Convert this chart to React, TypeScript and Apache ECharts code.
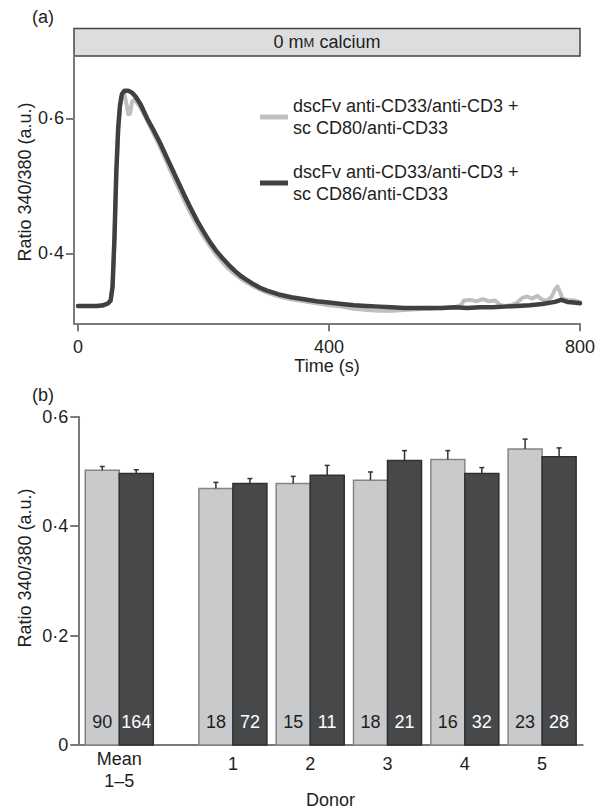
import React, { useEffect, useRef } from "react";
import * as echarts from "echarts";

const FONT = '"Liberation Sans", Arial, Helvetica, sans-serif';
const TEXT = "#1e1e1e";
const AXIS = "#7a7a7a";
const LIGHT = "#bebfc1";
const DARK = "#3f4042";

// ---- Panel (a): Fura-2 ratio traces over time ----
const seriesNames = [
  "dscFv anti-CD33/anti-CD3 + sc CD80/anti-CD33",
  "dscFv anti-CD33/anti-CD3 + sc CD86/anti-CD33",
];

const timesCD80 = [
  0, 10, 20, 30, 40, 48, 52, 55, 58, 61, 64, 67, 70, 74, 77, 80, 83, 86, 90,
  100, 110, 120, 130, 140, 150, 160, 170, 180, 190, 200, 210, 220, 230, 240,
  250, 260, 270, 280, 290, 300, 320, 340, 360, 380, 400, 420, 440, 460, 480,
  500, 520, 540, 560, 580, 600, 610, 615, 625, 635, 645, 655, 665, 672, 680,
  690, 700, 708, 716, 724, 732, 740, 748, 755, 760, 764, 768, 772, 780, 790, 800,
];
const ratioCD80 = [
  0.322, 0.322, 0.322, 0.322, 0.322, 0.325, 0.33, 0.35, 0.418, 0.515, 0.58,
  0.618, 0.633, 0.636, 0.622, 0.606, 0.607, 0.624, 0.628, 0.615, 0.597, 0.578,
  0.559, 0.538, 0.517, 0.497, 0.477, 0.458, 0.441, 0.425, 0.411, 0.398, 0.387,
  0.377, 0.369, 0.362, 0.356, 0.351, 0.346, 0.342, 0.336, 0.332, 0.329, 0.326,
  0.323, 0.321, 0.318, 0.316, 0.315, 0.315, 0.316, 0.317, 0.318, 0.319, 0.32,
  0.323, 0.33, 0.331, 0.329, 0.332, 0.329, 0.33, 0.324, 0.322, 0.323, 0.327,
  0.334, 0.336, 0.333, 0.337, 0.331, 0.33, 0.336, 0.346, 0.351, 0.343, 0.333,
  0.331, 0.33, 0.328,
];

const timesCD86 = [
  0, 10, 20, 30, 40, 48, 52, 55, 58, 61, 64, 67, 70, 74, 80, 86, 92, 100, 110,
  120, 130, 140, 150, 160, 170, 180, 190, 200, 210, 220, 230, 240, 250, 260,
  270, 280, 290, 300, 320, 340, 360, 380, 400, 420, 440, 460, 480, 500, 520,
  540, 560, 580, 600, 620, 640, 660, 680, 700, 720, 740, 760, 770, 780, 790, 800,
];
const ratioCD86 = [
  0.322, 0.322, 0.322, 0.322, 0.323, 0.326, 0.33, 0.35, 0.42, 0.52, 0.585,
  0.62, 0.636, 0.641, 0.641, 0.638, 0.632, 0.62, 0.6, 0.583, 0.565, 0.545,
  0.525, 0.505, 0.485, 0.466, 0.448, 0.432, 0.417, 0.404, 0.393, 0.383, 0.374,
  0.366, 0.36, 0.354, 0.349, 0.345, 0.339, 0.335, 0.332, 0.329, 0.327, 0.325,
  0.323, 0.322, 0.321, 0.32, 0.319, 0.319, 0.319, 0.319, 0.32, 0.319, 0.32,
  0.32, 0.321, 0.322, 0.323, 0.325, 0.328, 0.331, 0.328, 0.327, 0.326,
];

const timeTicks = [0, 400, 800];
const ratioTicksA = [0.4, 0.6];

// ---- Panel (b): peak ratio per donor ----
const groupLabels = ["Mean\n1–5", "1", "2", "3", "4", "5"];
const groupPositions = [0.53, 2, 3, 4, 5, 6];
const meanCD80 = [0.502, 0.469, 0.478, 0.484, 0.522, 0.541];
const errCD80 = [0.007, 0.011, 0.013, 0.015, 0.016, 0.018];
const meanCD86 = [0.496, 0.478, 0.493, 0.52, 0.496, 0.527];
const errCD86 = [0.007, 0.009, 0.018, 0.018, 0.011, 0.016];
const cellsCD80 = [90, 18, 15, 18, 16, 23];
const cellsCD86 = [164, 72, 11, 21, 32, 28];

const BAR_WIDTH = 0.44; // in x-axis units

const ratioFmt = (v: number) => (v === 0 ? "0" : v.toFixed(1).replace(".", "·"));

const makeBars = (
  name: string,
  means: number[],
  errs: number[],
  counts: number[],
  side: number,
  fill: string,
  stroke: string,
  labelColor: string
) => ({
  type: "custom",
  name,
  xAxisIndex: 1,
  yAxisIndex: 1,
  data: groupPositions.map((p, i) => [p, means[i], errs[i], counts[i]]),
  encode: { x: 0, y: 1 },
  renderItem: (_params: any, api: any) => {
    const pos = api.value(0);
    const mean = api.value(1);
    const err = api.value(2);
    const n = api.value(3);
    const base = api.coord([pos, 0]);
    const top = api.coord([pos, mean]);
    const errTop = api.coord([pos, mean + err]);
    const w = api.size([BAR_WIDTH, 0])[0];
    const x0 = side < 0 ? base[0] - w : base[0];
    const cx = x0 + w / 2;
    return {
      type: "group",
      children: [
        {
          type: "rect",
          shape: { x: x0, y: top[1], width: w, height: base[1] - top[1] },
          style: { fill, stroke, lineWidth: 1.5 },
        },
        {
          type: "line",
          shape: { x1: cx, y1: top[1], x2: cx, y2: errTop[1] },
          style: { stroke: "#333", lineWidth: 1.5 },
        },
        {
          type: "line",
          shape: { x1: cx - 2.5, y1: errTop[1], x2: cx + 2.5, y2: errTop[1] },
          style: { stroke: "#333", lineWidth: 1.5 },
        },
        {
          type: "text",
          x: cx,
          y: base[1] - 23,
          style: {
            text: String(n),
            fill: labelColor,
            fontSize: 18,
            fontFamily: FONT,
            align: "center",
            verticalAlign: "middle",
          },
        },
      ],
    };
  },
});

const axisLine = { show: true, onZero: false, lineStyle: { color: AXIS, width: 2 } };
const labelStyle = { fontSize: 18, fontFamily: FONT, color: TEXT };

export default function App() {
  const ref = useRef<HTMLDivElement>(null);

  useEffect(() => {
    if (!ref.current) return;
    const chart = echarts.init(ref.current, null, { renderer: "svg" });

    const option: any = {
      animation: false,
      backgroundColor: "#ffffff",
      textStyle: { fontFamily: FONT },
      grid: [
        { left: 74, right: 20, top: 56, bottom: 486.7 },
        { left: 78.3, right: 17.3, top: 416.7, bottom: 61.7 },
      ],
      legend: {
        data: seriesNames,
        orient: "vertical",
        left: 255,
        top: 90,
        itemWidth: 28,
        itemHeight: 5,
        itemGap: 22,
        icon: "rect",
        selectedMode: false,
        formatter: (name: string) => name.replace(" + ", " +\n"),
        textStyle: { fontSize: 18, lineHeight: 22, fontFamily: FONT, color: TEXT },
      },
      xAxis: [
        {
          type: "value",
          gridIndex: 0,
          min: -6.4,
          max: 800,
          axisLine,
          splitLine: { show: false },
          axisTick: {
            customValues: timeTicks,
            length: 8,
            lineStyle: { color: AXIS, width: 2 },
          },
          axisLabel: { ...labelStyle, customValues: timeTicks, margin: 15 },
          name: "Time (s)",
          nameLocation: "middle",
          nameGap: 34,
          nameTextStyle: labelStyle,
        },
        {
          type: "value",
          gridIndex: 1,
          min: 0,
          max: 6.525,
          axisLine,
          splitLine: { show: false },
          axisTick: { show: false },
          axisLabel: {
            ...labelStyle,
            customValues: groupPositions,
            margin: 3,
            formatter: (v: number) => {
              const i = groupPositions.findIndex((p) => Math.abs(p - v) < 1e-6);
              const s = i >= 0 ? groupLabels[i] : "";
              return i === 0
                ? s.split("\n").map((l) => `{m|${l}}`).join("\n")
                : `{n|${s}}`;
            },
            rich: {
              m: { fontSize: 18, lineHeight: 22, fontFamily: FONT, color: TEXT },
              n: { fontSize: 18, lineHeight: 32, fontFamily: FONT, color: TEXT },
            },
          },
          name: "Donor",
          nameLocation: "middle",
          nameGap: 44,
          nameTextStyle: labelStyle,
        },
      ],
      yAxis: [
        {
          type: "value",
          gridIndex: 0,
          min: 0.2963,
          max: 0.6923,
          axisLine,
          splitLine: { show: false },
          axisTick: {
            customValues: ratioTicksA,
            length: 8,
            lineStyle: { color: AXIS, width: 2 },
          },
          axisLabel: {
            ...labelStyle,
            customValues: ratioTicksA,
            margin: 10,
            formatter: ratioFmt,
          },
        },
        {
          type: "value",
          gridIndex: 1,
          min: 0,
          max: 0.6,
          interval: 0.2,
          axisLine,
          splitLine: { show: false },
          axisTick: { length: 8, lineStyle: { color: AXIS, width: 2 } },
          axisLabel: { ...labelStyle, margin: 10, formatter: ratioFmt },
        },
      ],
      graphic: [
        {
          type: "text",
          x: 43,
          y: 17,
          style: { text: "(a)", ...labelStyle, fill: TEXT, align: "center", verticalAlign: "middle" },
        },
        {
          type: "text",
          x: 43,
          y: 395,
          style: { text: "(b)", ...labelStyle, fill: TEXT, align: "center", verticalAlign: "middle" },
        },
        {
          type: "rect",
          shape: { x: 74, y: 28.5, width: 506, height: 27.5 },
          style: { fill: "#dcdddf", stroke: "#474747", lineWidth: 1.5 },
        },
        {
          type: "text",
          x: 327,
          y: 42,
          style: {
            text: "0 m{sc|M} calcium",
            rich: { sc: { fontSize: 13, fontFamily: FONT, fill: TEXT } },
            fontSize: 18,
            fontFamily: FONT,
            fill: TEXT,
            align: "center",
            verticalAlign: "middle",
          },
        },
        {
          type: "text",
          x: 25,
          y: 182,
          rotation: Math.PI / 2,
          style: {
            text: "Ratio 340/380 (a.u.)",
            fontSize: 18,
            fontFamily: FONT,
            fill: TEXT,
            align: "center",
            verticalAlign: "middle",
          },
        },
        {
          type: "text",
          x: 25,
          y: 568,
          rotation: Math.PI / 2,
          style: {
            text: "Ratio 340/380 (a.u.)",
            fontSize: 18,
            fontFamily: FONT,
            fill: TEXT,
            align: "center",
            verticalAlign: "middle",
          },
        },
      ],
      series: [
        {
          type: "line",
          name: seriesNames[0],
          xAxisIndex: 0,
          yAxisIndex: 0,
          showSymbol: false,
          color: LIGHT,
          lineStyle: { color: LIGHT, width: 4, cap: "round", join: "round" },
          data: timesCD80.map((t, i) => [t, ratioCD80[i]]),
        },
        {
          type: "line",
          name: seriesNames[1],
          xAxisIndex: 0,
          yAxisIndex: 0,
          showSymbol: false,
          color: DARK,
          lineStyle: { color: DARK, width: 4.5, cap: "round", join: "round" },
          data: timesCD86.map((t, i) => [t, ratioCD86[i]]),
        },
        makeBars("CD80 peak", meanCD80, errCD80, cellsCD80, -1, "#c9cacc", "#858585", TEXT),
        makeBars("CD86 peak", meanCD86, errCD86, cellsCD86, 1, "#47484a", "#303030", "#ffffff"),
      ],
    };

    chart.setOption(option);
    return () => chart.dispose();
  }, []);

  return (
    <div
      ref={ref}
      style={{ position: "absolute", left: 0, top: 0, width: 600, height: 810 }}
    />
  );
}
